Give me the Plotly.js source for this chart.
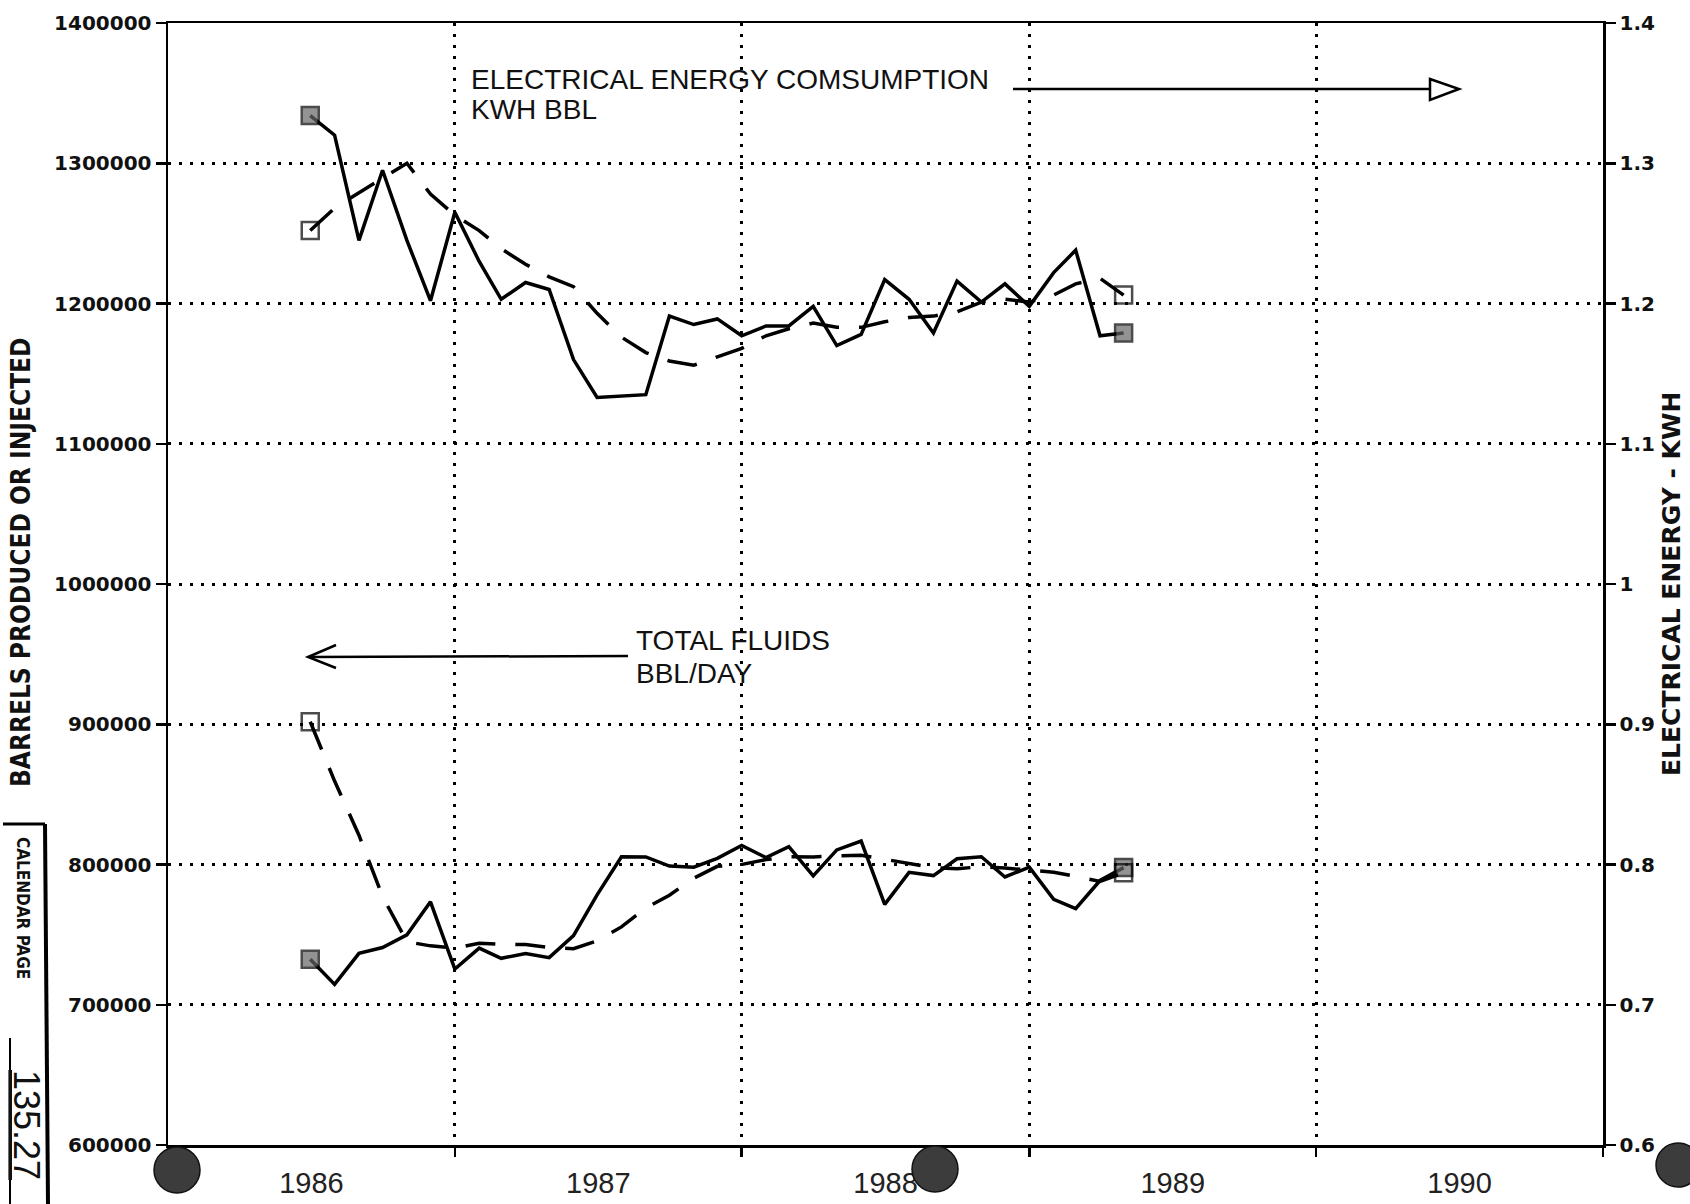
<!DOCTYPE html>
<html>
<head>
<meta charset="utf-8">
<script src="https://cdn.plot.ly/plotly-3.0.1.min.js"></script>
<style>
  html, body { margin: 0; padding: 0; background: #ffffff; }
  #chart { width: 1690px; height: 1204px; }
</style>
</head>
<body>
<div id="chart"></div>
<script>
// ---- Data ----
const months = [
  '1986-07-01','1986-08-01','1986-09-01','1986-10-01','1986-11-01','1986-12-01',
  '1987-01-01','1987-02-01','1987-03-01','1987-04-01','1987-05-01','1987-06-01',
  '1987-07-01','1987-08-01','1987-09-01','1987-10-01','1987-11-01','1987-12-01',
  '1988-01-01','1988-02-01','1988-03-01','1988-04-01','1988-05-01','1988-06-01',
  '1988-07-01','1988-08-01','1988-09-01','1988-10-01','1988-11-01','1988-12-01',
  '1989-01-01','1989-02-01','1989-03-01','1989-04-01','1989-05-01'
];

// Electrical energy consumption, KWH/BBL (right axis)
const energyActual = [1.334,1.320,1.245,1.295,1.245,1.202,1.265,1.230,1.203,1.215,1.210,1.160,
                      1.133,1.134,1.135,1.191,1.185,1.189,1.177,1.184,1.184,1.198,1.170,1.178,
                      1.217,1.203,1.179,1.216,1.201,1.214,1.198,1.222,1.238,1.177,1.179];
const energyTrend  = [1.252,1.268,1.279,1.289,1.300,1.278,1.263,1.252,1.239,1.228,1.219,1.212,
                      1.193,1.176,1.165,1.159,1.156,1.162,1.168,1.177,1.182,1.186,1.183,1.183,
                      1.187,1.190,1.191,1.194,1.201,1.203,1.201,1.206,1.214,1.218,1.206];

// Total fluids, BBL/DAY (left axis)
const fluidActual = [732500,714500,736600,740800,749900,773400,725400,740400,733100,736600,733600,749300,
                     778400,805500,805400,798900,798100,804400,813600,804900,812700,791900,810400,816700,
                     771600,794400,792100,804100,805500,791100,798100,775200,768600,788600,797800];
const fluidTrend  = [901800,859500,820900,777200,744900,742000,740400,743900,743100,743000,740800,740000,
                     745600,755500,769000,778100,790200,798700,800000,803500,805500,805400,806100,806600,
                     803700,800800,797800,797000,798400,797500,796000,794500,791500,787900,794200];

const yearLabels = ['1986','1987','1988','1989','1990'];
const leftTicks  = [600000,700000,800000,900000,1000000,1100000,1200000,1300000,1400000];
const rightTicks = [0.6,0.7,0.8,0.9,1,1.1,1.2,1.3,1.4];

// ---- Layout helpers (pixel -> paper) ----
const W = 1690, H = 1204;
const PL = 168, PR = 1603, PT = 23, PB = 1145;
const fx = x => (x - PL) / (PR - PL);
const fy = y => (PB - y) / (PB - PT);

const endSizes = arr => arr.map((v, i) => (i === 0 || i === arr.length - 1) ? 17 : 0);

const lineW = 3.5;
const traces = [
  {
    x: months, y: energyActual, yaxis: 'y2', type: 'scatter', mode: 'lines+markers',
    line: { color: '#000', width: lineW },
    marker: { symbol: 'square', size: endSizes(energyActual), color: '#666', line: { color: '#000', width: 2.5 } },
    hoverinfo: 'skip', showlegend: false
  },
  {
    x: months, y: energyTrend, yaxis: 'y2', type: 'scatter', mode: 'lines+markers',
    line: { color: '#000', width: lineW, dash: '30px,20px' },
    marker: { symbol: 'square-open', size: endSizes(energyTrend), color: '#000', line: { color: '#000', width: 2.5 } },
    hoverinfo: 'skip', showlegend: false
  },
  {
    x: months, y: fluidActual, yaxis: 'y', type: 'scatter', mode: 'lines+markers',
    line: { color: '#000', width: lineW },
    marker: { symbol: 'square', size: endSizes(fluidActual), color: '#666', line: { color: '#000', width: 2.5 } },
    hoverinfo: 'skip', showlegend: false
  },
  {
    x: months, y: fluidTrend, yaxis: 'y', type: 'scatter', mode: 'lines+markers',
    line: { color: '#000', width: lineW, dash: '30px,20px' },
    marker: { symbol: 'square-open', size: endSizes(fluidTrend), color: '#000', line: { color: '#000', width: 2.5 } },
    hoverinfo: 'skip', showlegend: false
  }
];

const tickFont = { family: 'DejaVu Sans, Verdana, sans-serif', size: 20, color: '#111', weight: 'bold' };
const gridDash = '3px,8px';

const layout = {
  width: W, height: H,
  margin: { l: PL, r: W - PR, t: PT, b: H - PB, pad: 0 },
  paper_bgcolor: '#ffffff', plot_bgcolor: '#ffffff',
  showlegend: false,
  xaxis: {
    type: 'date',
    range: ['1986-01-01', '1991-01-01'],
    tick0: '1986-01-01', dtick: 'M12',
    ticklabelmode: 'period', tickformat: '%Y',
    ticks: 'outside', ticklen: 9, tickwidth: 2.5, tickcolor: '#000',
    ticklabelstandoff: 2,
    tickfont: { family: 'Liberation Sans, Arial, sans-serif', size: 29, color: '#222' },
    showgrid: true, gridcolor: '#000', gridwidth: 3, griddash: gridDash,
    showline: true, linecolor: '#000', linewidth: 2.5, mirror: true,
    zeroline: false, fixedrange: true
  },
  yaxis: {
    range: [600000, 1400000],
    tickmode: 'array', tickvals: leftTicks, ticktext: leftTicks.map(String),
    ticks: 'outside', ticklen: 10, tickwidth: 2.5, tickcolor: '#000',
    tickfont: tickFont,
    showgrid: true, gridcolor: '#000', gridwidth: 3, griddash: gridDash,
    showline: true, linecolor: '#000', linewidth: 2.5,
    zeroline: false, fixedrange: true
  },
  yaxis2: {
    overlaying: 'y', side: 'right',
    range: [0.6, 1.4],
    tickmode: 'array', tickvals: rightTicks, ticktext: rightTicks.map(String),
    ticks: 'outside', ticklen: 10, tickwidth: 2.5, tickcolor: '#000',
    tickfont: tickFont,
    showgrid: false,
    showline: true, linecolor: '#000', linewidth: 2.5,
    zeroline: false, fixedrange: true
  },
  annotations: [
    { xref: 'paper', yref: 'paper', x: fx(21), y: fy(562), text: 'BARRELS PRODUCED OR INJECTED',
      textangle: -90, showarrow: false, xanchor: 'center', yanchor: 'middle',
      font: { family: 'Liberation Sans Narrow, DejaVu Sans Condensed, Arial Narrow, Liberation Sans, sans-serif', size: 26, color: '#111', weight: 'bold' } },
    { xref: 'paper', yref: 'paper', x: fx(1671), y: fy(584), text: 'ELECTRICAL ENERGY - KWH',
      textangle: -90, showarrow: false, xanchor: 'center', yanchor: 'middle',
      font: { family: 'DejaVu Sans, Verdana, sans-serif', size: 25, color: '#111', weight: 'bold' } },
    { xref: 'paper', yref: 'paper', x: fx(469), y: fy(80), text: 'ELECTRICAL ENERGY COMSUMPTION',
      showarrow: false, xanchor: 'left', yanchor: 'middle',
      font: { family: 'Liberation Sans, Arial, sans-serif', size: 28, color: '#111' } },
    { xref: 'paper', yref: 'paper', x: fx(469), y: fy(109), text: 'KWH BBL',
      showarrow: false, xanchor: 'left', yanchor: 'middle',
      font: { family: 'Liberation Sans, Arial, sans-serif', size: 28, color: '#111' } },
    { xref: 'paper', yref: 'paper', x: fx(634), y: fy(640), text: 'TOTAL FLUIDS',
      showarrow: false, xanchor: 'left', yanchor: 'middle',
      font: { family: 'Liberation Sans, Arial, sans-serif', size: 28, color: '#111' } },
    { xref: 'paper', yref: 'paper', x: fx(634), y: fy(673), text: 'BBL/DAY',
      showarrow: false, xanchor: 'left', yanchor: 'middle',
      font: { family: 'Liberation Sans, Arial, sans-serif', size: 28, color: '#111' } },
    { xref: 'paper', yref: 'paper', x: fx(23), y: fy(908), text: 'CALENDAR PAGE',
      textangle: 90, showarrow: false, xanchor: 'center', yanchor: 'middle',
      font: { family: 'Liberation Sans Narrow, DejaVu Sans Condensed, Liberation Sans, sans-serif', size: 17, color: '#111', weight: 'bold' } },
    { xref: 'paper', yref: 'paper', x: fx(27), y: fy(1125), text: '<u>135.27</u>',
      textangle: 90, showarrow: false, xanchor: 'center', yanchor: 'middle',
      font: { family: 'Liberation Sans, Arial, sans-serif', size: 36, color: '#111' } }
  ],
  shapes: [
    // arrow to right axis
    { type: 'line', xref: 'paper', yref: 'paper', x0: fx(1013), y0: fy(89), x1: fx(1431), y1: fy(89),
      line: { color: '#000', width: 2.5 } },
    { type: 'path', xref: 'paper', yref: 'paper',
      path: `M ${fx(1430)} ${fy(79)} L ${fx(1459)} ${fy(89)} L ${fx(1430)} ${fy(100)} Z`,
      line: { color: '#000', width: 2.5 }, fillcolor: 'rgba(0,0,0,0)' },
    // arrow to left axis
    { type: 'line', xref: 'paper', yref: 'paper', x0: fx(309), y0: fy(657), x1: fx(628), y1: fy(656),
      line: { color: '#000', width: 2.5 } },
    { type: 'path', xref: 'paper', yref: 'paper',
      path: `M ${fx(336)} ${fy(645)} L ${fx(308)} ${fy(657)} L ${fx(336)} ${fy(668)}`,
      line: { color: '#000', width: 2.5 }, fillcolor: 'rgba(0,0,0,0)' },
    // calendar page stamp box
    { type: 'line', xref: 'paper', yref: 'paper', x0: fx(3), y0: fy(824), x1: fx(45), y1: fy(824),
      line: { color: '#000', width: 3 } },
    { type: 'line', xref: 'paper', yref: 'paper', x0: fx(45), y0: fy(824), x1: fx(48), y1: fy(1204),
      line: { color: '#000', width: 4 } },
    { type: 'line', xref: 'paper', yref: 'paper', x0: fx(10), y0: fy(1038), x1: fx(10), y1: fy(1204),
      line: { color: '#000', width: 2 } },
    // punch holes
    { type: 'circle', xref: 'paper', yref: 'paper', layer: 'above',
      x0: fx(154), y0: fy(1147), x1: fx(200), y1: fy(1193), fillcolor: '#3c3c3c', line: { color: '#111', width: 1.5 } },
    { type: 'circle', xref: 'paper', yref: 'paper', layer: 'above',
      x0: fx(912), y0: fy(1146), x1: fx(958), y1: fy(1192), fillcolor: '#3c3c3c', line: { color: '#111', width: 1.5 } },
    { type: 'circle', xref: 'paper', yref: 'paper', layer: 'above',
      x0: fx(1656), y0: fy(1143), x1: fx(1700), y1: fy(1187), fillcolor: '#3c3c3c', line: { color: '#111', width: 1.5 } }
  ]
};

Plotly.newPlot('chart', traces, layout, { staticPlot: true, displayModeBar: false });
</script>
</body>
</html>
